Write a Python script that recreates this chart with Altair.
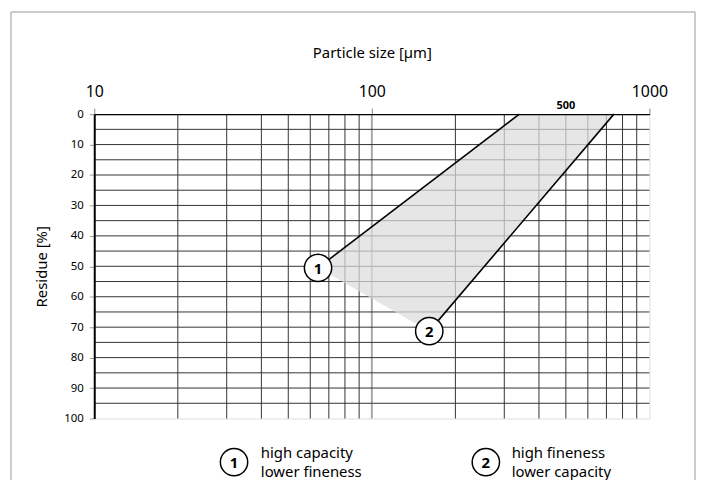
import altair as alt
import pandas as pd

# ---- data ----
x_ticks = [10, 100, 1000]
y_ticks = [0, 10, 20, 30, 40, 50, 60, 70, 80, 90, 100]
x_grid = [20, 30, 40, 50, 60, 70, 80, 90, 200, 300, 400, 500, 600, 700, 800, 900]
x_major = [100]
y_grid = [5, 10, 15, 20, 25, 30, 35, 40, 45, 50, 55, 60, 65, 70, 75, 80, 85, 90, 95]

band_x = [340, 745, 161, 64]
band_y = [0, 0, 71.3, 50.5]
band_order = [1, 2, 3, 4]

line1_x = [64, 340]
line1_y = [50.5, 0]
line2_x = [161, 745]
line2_y = [71.3, 0]

marker_x = [64, 161]
marker_y = [50.5, 71.3]
marker_label = ["1", "2"]

note_x = [500]
note_label = ["500"]

legend_num = ["1", "2"]
legend_text = [["high capacity", "lower fineness"], ["high fineness", "lower capacity"]]

FONT = "Noto Sans"
W, H = 560, 307

xs = alt.Scale(type="log", domain=[10, 1000])
ys = alt.Scale(domain=[0, 100], reverse=True)

XA = alt.Axis(
    orient="top", values=x_ticks, format="d", title="Particle size [µm]",
    labelFont=FONT, labelFontSize=16, labelColor="black", labelPadding=9,
    labelFlush=False, labelOverlap=False,
    titleFont=FONT, titleFontSize=15, titleFontWeight="normal", titleColor="black",
    titleY=-62, titleBaseline="middle",
    tickSize=6, tickColor="#888888", domainColor="black", domainWidth=1.5,
    grid=False, zindex=1,
)
YA = alt.Axis(
    orient="left", values=y_ticks, title="Residue [%]",
    labelFont=FONT, labelFontSize=11.5, labelColor="black", labelPadding=6,
    labelFlush=False, labelOverlap=False,
    titleFont=FONT, titleFontSize=15, titleFontWeight="normal", titleColor="black",
    titleX=-53, titleY=H / 2, titleBaseline="middle", titleAngle=270,
    tickSize=5, tickColor="#999999", domainColor="black", domainWidth=2,
    grid=False, zindex=1,
)


def X(f):
    return alt.X(f, scale=xs, axis=XA, title="Particle size [µm]")


def Y(f):
    return alt.Y(f, scale=ys, axis=YA, title="Residue [%]")


def XD(v):
    return alt.datum(v, scale=xs, axis=XA, title="Particle size [µm]")


def YD(v):
    return alt.datum(v, scale=ys, axis=YA, title="Residue [%]")


one = pd.DataFrame({"a": [0]})

frame = alt.Chart(one).mark_rect(fill=None, stroke="#9a9a9a", strokeWidth=1).encode(
    x=alt.value(-84), x2=alt.value(606), y=alt.value(-103), y2=alt.value(420)
)

vgrid = alt.Chart(pd.DataFrame({"x": x_grid})).mark_rule(color="#333333", strokeWidth=1).encode(
    x=X("x:Q"), y=YD(0), y2=alt.datum(100)
)
vmajor = alt.Chart(pd.DataFrame({"x": x_major})).mark_rule(color="#a8a8a8", strokeWidth=2).encode(
    x=X("x:Q"), y=YD(0), y2=alt.datum(100)
)
hgrid = alt.Chart(pd.DataFrame({"y": y_grid})).mark_rule(color="#333333", strokeWidth=1).encode(
    y=Y("y:Q"), x=XD(10), x2=alt.datum(1000)
)

band = alt.Chart(pd.DataFrame({"x": band_x, "y": band_y, "o": band_order})).mark_line(
    filled=True, color="#dcdcdc", fillOpacity=0.72, strokeOpacity=0, interpolate="linear-closed"
).encode(x=X("x:Q"), y=Y("y:Q"), order="o:Q")

l1 = alt.Chart(pd.DataFrame({"x": line1_x, "y": line1_y})).mark_line(color="black", strokeWidth=1.6).encode(
    x=X("x:Q"), y=Y("y:Q")
)
l2 = alt.Chart(pd.DataFrame({"x": line2_x, "y": line2_y})).mark_line(color="black", strokeWidth=1.6).encode(
    x=X("x:Q"), y=Y("y:Q")
)

mk_df = pd.DataFrame({"x": marker_x, "y": marker_y, "t": marker_label})
circles = alt.Chart(mk_df).mark_point(
    shape="circle", size=760, filled=True, fill="white", stroke="black", strokeWidth=1.5, opacity=1
).encode(x=X("x:Q"), y=Y("y:Q"))
nums = alt.Chart(mk_df).mark_text(
    font=FONT, fontSize=15, fontWeight="bold", color="black", baseline="middle", align="center", dy=1
).encode(x=X("x:Q"), y=Y("y:Q"), text="t:N")

note = alt.Chart(pd.DataFrame({"x": note_x, "t": note_label})).mark_text(
    font=FONT, fontSize=11, fontWeight="bold", color="black", baseline="middle", align="center"
).encode(x=X("x:Q"), y=alt.value(-8), text="t:N")

layers = [frame, vgrid, vmajor, hgrid, band, l1, l2, circles, nums, note]

legend_cx = [141, 395]
legend_tx = [168, 421]
for i in range(len(legend_num)):
    d = pd.DataFrame({"t": [legend_num[i]]})
    layers.append(alt.Chart(d).mark_point(
        shape="circle", size=760, filled=True, fill="white", stroke="black", strokeWidth=1.5, opacity=1
    ).encode(x=alt.value(legend_cx[i]), y=alt.value(351)))
    layers.append(alt.Chart(d).mark_text(
        font=FONT, fontSize=15, fontWeight="bold", color="black", baseline="middle", align="center", dy=1
    ).encode(x=alt.value(legend_cx[i]), y=alt.value(351), text="t:N"))
    dt = pd.DataFrame({"t": [legend_text[i]]})
    layers.append(alt.Chart(dt).mark_text(
        font=FONT, fontSize=15, color="black", baseline="alphabetic", align="left", lineHeight=19
    ).encode(x=alt.value(legend_tx[i]), y=alt.value(347), text="t"))

chart = alt.layer(*layers).properties(
    width=W, height=H,
    autosize=alt.AutoSizeParams(type="none"),
    padding={"left": 87, "top": 105, "right": 50, "bottom": 60},
).configure_view(stroke=None).configure(background="white")

chart.save("out.html", embed_options={"renderer": "svg", "actions": False})
